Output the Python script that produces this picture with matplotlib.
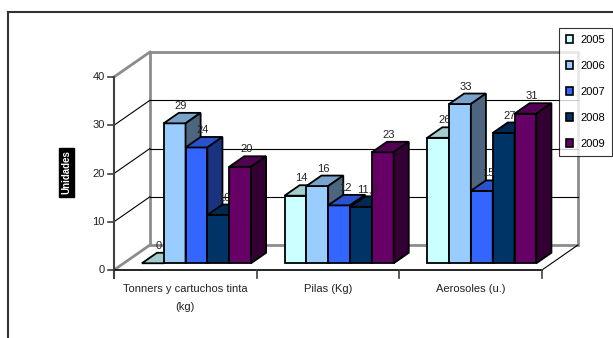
import matplotlib.pyplot as plt
from matplotlib.patches import Polygon, Patch
from matplotlib.lines import Line2D

plt.rcParams['font.family'] = ['Liberation Sans', 'DejaVu Sans']

categories = ['Tonners y cartuchos tinta\n(kg)', 'Pilas (Kg)', 'Aerosoles (u.)']
years = ['2005', '2006', '2007', '2008', '2009']
v2005 = [0, 14, 26]
v2006 = [29, 16, 33]
v2007 = [24, 12, 15]
v2008 = [10, 11.7, 27]
v2009 = [20, 23, 31]
labels = {
    '2005': ['0', '14', '26'],
    '2006': ['29', '16', '33'],
    '2007': ['24', '12', '15'],
    '2008': ['10', '11,7', '27'],
    '2009': ['20', '23', '31'],
}
series = [v2005, v2006, v2007, v2008, v2009]
colors = ['#CCFFFF', '#99CCFF', '#3366FF', '#003366', '#660066']

# oblique projection: depth 0..1 shifts the point right and up
KX, KY = 0.252, 5.18
D0, D1 = 0.27, 0.69
W = 0.153
YMAX = 40


def proj(x, v, d):
    return (x + KX * d, v + KY * d)


def shade(c, f):
    c = c.lstrip('#')
    r, g, b = (int(c[i:i + 2], 16) / 255 for i in (0, 2, 4))
    return (r * f, g * f, b * f)


fig = plt.figure(figsize=(6.13, 3.38), dpi=100)
ax = fig.add_axes([0, 0, 1, 1])
ax.set_xlim(-0.799, 3.498)
ax.set_ylim(-14.09, 55.96)
ax.axis('off')

grey = '#8c8c8c'
# walls and floor
ax.add_patch(Polygon([proj(0, 0, 1), proj(3, 0, 1), proj(3, YMAX, 1), proj(0, YMAX, 1)],
                     closed=True, fc='white', ec=grey, lw=2, zorder=1))
for v in [10, 20, 30]:
    x0, y0 = proj(0, v, 1)
    x1, y1 = proj(3, v, 1)
    ax.plot([x0, x1], [y0, y1], color='black', lw=0.8, zorder=1.5)
    ax.plot([0, x0], [v, y0], color='black', lw=0.8, zorder=1.5)
for v in [0, YMAX]:
    x0, y0 = proj(0, v, 1)
    ax.plot([0, x0], [v, y0], color=grey, lw=2, zorder=1.5)
x0, y0 = proj(3, 0, 1)
ax.plot([3, x0], [0, y0], color='black', lw=0.8, zorder=1.5)

# axes lines and ticks
ax.plot([0, 0], [-1.66, YMAX], color='#404040', lw=1.5, zorder=2)
ax.plot([0, 3], [0, 0], color='black', lw=1.2, zorder=2)
for v in range(0, YMAX + 1, 10):
    ax.plot([-0.042, 0], [v, v], color='#404040', lw=1.2, zorder=2)
    ax.text(-0.065, v, str(v), ha='right', va='center', fontsize=8, color='#222222')
for i in range(1, 4):
    ax.plot([i, i], [0, -1.66], color='#404040', lw=1.2, zorder=2)
for i, cat in enumerate(categories):
    ax.text(i + 0.5, -3.0, cat, ha='center', va='top', fontsize=8,
            linespacing=2.0, color='#222222')

ax.text(-0.336, 20.3, 'Unidades', rotation=90, ha='center', va='center',
        fontsize=7, fontweight='bold', color='white',
        bbox=dict(fc='black', ec='black', pad=1.8))

# bars, painted left to right so neighbours hide the side faces
z = 3
for i in range(len(categories)):
    left = i + 0.5 - 2.5 * W + 0.01
    for j, (vals, col) in enumerate(zip(series, colors)):
        v = vals[i]
        xl = left + j * W
        xr = xl + W
        front = [proj(xl, 0, D0), proj(xr, 0, D0), proj(xr, v, D0), proj(xl, v, D0)]
        top = [proj(xl, v, D0), proj(xr, v, D0), proj(xr, v, D1), proj(xl, v, D1)]
        side = [proj(xr, 0, D0), proj(xr, 0, D1), proj(xr, v, D1), proj(xr, v, D0)]
        ax.add_patch(Polygon(front, closed=True, fc=col, ec='black', lw=1.3, zorder=z))
        ax.add_patch(Polygon(top, closed=True, fc=shade(col, 0.8), ec='black', lw=1.3, zorder=z))
        ax.add_patch(Polygon(side, closed=True, fc=shade(col, 0.5), ec='black', lw=1.3, zorder=z))
        lx, ly = proj((xl + xr) / 2, v, (D0 + D1) / 2)
        ax.text(lx - 0.01, v + KY * D1 + 0.4, labels[years[j]][i], ha='center', va='bottom',
                fontsize=8, color='#222222', zorder=50)
        z += 1

handles = [Patch(fc=c, ec='black', lw=1.2) for c in colors]
leg = fig.legend(handles, years, loc='upper left', bbox_to_anchor=(559 / 613, 1 - 28 / 338),
                 fontsize=8, frameon=True, fancybox=False, edgecolor='black',
                 handlelength=0.7, handleheight=0.7, handletextpad=0.6,
                 labelspacing=1.45, borderpad=0.6, borderaxespad=0)
leg.get_frame().set_linewidth(0.8)

# chart border
fig.add_artist(Line2D([8 / 613, 1], [1 - 12 / 338, 1 - 12 / 338], color='#333333', lw=1.5,
                      transform=fig.transFigure))
fig.add_artist(Line2D([8 / 613, 8 / 613], [0, 1 - 12 / 338], color='#333333', lw=1.5,
                      transform=fig.transFigure))

fig.savefig('out.png', dpi=100)
